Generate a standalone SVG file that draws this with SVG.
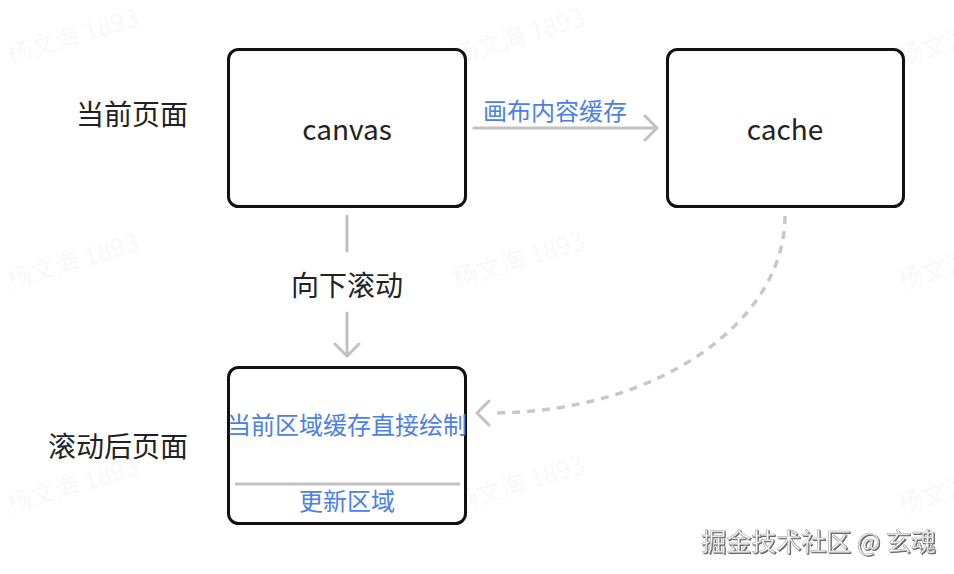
<svg xmlns="http://www.w3.org/2000/svg" width="954" height="574" viewBox="0 0 954 574">
<style>
.box{fill:#fff;stroke:#111;stroke-width:3}
.conn{fill:none;stroke:#c2c2c2;stroke-width:3;stroke-linecap:round;stroke-linejoin:round}
.dash{fill:none;stroke:#c8c8c8;stroke-width:3.5;stroke-dasharray:8 7}
.lbl{font-family:"Noto Sans CJK SC","Noto Sans",sans-serif;fill:#222}
.big{font-size:28px}
.blue{font-family:"Noto Sans CJK SC","Noto Sans",sans-serif;font-size:24px;fill:#4d80e4}
.en{font-family:"Noto Sans CJK SC","Noto Sans",sans-serif;font-size:28px;fill:#222}
.wm{font-family:"Noto Sans CJK SC","Noto Sans",sans-serif;font-size:25px;fill:#000;fill-opacity:0.045}
.brand{font-family:"Noto Sans CJK SC","Noto Sans",sans-serif;font-size:25px;fill:#fbfbfb;stroke:#9a9a9a;stroke-width:0.5}
</style>
<defs>
<filter id="sh" x="-5%" y="-20%" width="110%" height="150%">
<feDropShadow dx="1" dy="1" stdDeviation="0.7" flood-color="#333" flood-opacity="0.8"/>
</filter>
</defs>
<rect width="954" height="574" fill="#fff"/>
<g id="watermarks">
<text class="wm" transform="translate(10,65) rotate(-17)">杨文海 1893</text>
<text class="wm" transform="translate(456,65) rotate(-17)">杨文海 1893</text>
<text class="wm" transform="translate(901,66) rotate(-17)">杨文海 1893</text>
<text class="wm" transform="translate(10,290) rotate(-17)">杨文海 1893</text>
<text class="wm" transform="translate(456,288) rotate(-17)">杨文海 1893</text>
<text class="wm" transform="translate(901,290) rotate(-17)">杨文海 1893</text>
<text class="wm" transform="translate(10,514) rotate(-17)">杨文海 1893</text>
<text class="wm" transform="translate(456,512) rotate(-17)">杨文海 1893</text>
<text class="wm" transform="translate(901,514) rotate(-17)">杨文海 1893</text>
</g>
<g id="row-labels">
<text class="lbl big" x="188" y="125" text-anchor="end">当前页面</text>
<text class="lbl big" x="188" y="457" text-anchor="end">滚动后页面</text>
</g>
<g id="connectors">
<path class="conn" d="M474 128 H657 M645 116 L657 128 L645 140"/>
<text class="blue" x="555" y="120" text-anchor="middle">画布内容缓存</text>
<path class="conn" d="M347 216 V251 M347 313 V356 M335 344 L347 356 L359 344"/>
<text class="lbl big" x="347" y="296" text-anchor="middle">向下滚动</text>
<path class="dash" d="M785 216 C785 320 660 413 490 413"/>
<path class="conn" d="M489 401 L477 413 L489 425"/>
</g>
<g id="canvas">
<rect class="box" x="228.5" y="49.5" width="237" height="157" rx="10"/>
<text class="en" x="347" y="140" text-anchor="middle">canvas</text>
</g>
<g id="cache">
<rect class="box" x="667.5" y="49.5" width="236" height="157" rx="10"/>
<text class="en" x="785" y="140" text-anchor="middle">cache</text>
</g>
<g id="after-scroll">
<rect class="box" x="228.5" y="367.5" width="237" height="156" rx="10"/>
<line x1="235" y1="484" x2="460" y2="484" stroke="#c2c2c2" stroke-width="3"/>
<text class="blue" x="347" y="434" text-anchor="middle">当前区域缓存直接绘制</text>
<text class="blue" x="347" y="510" text-anchor="middle">更新区域</text>
</g>
<text class="brand" x="936" y="551" text-anchor="end" filter="url(#sh)">掘金技术社区 @ 玄魂</text>
</svg>
